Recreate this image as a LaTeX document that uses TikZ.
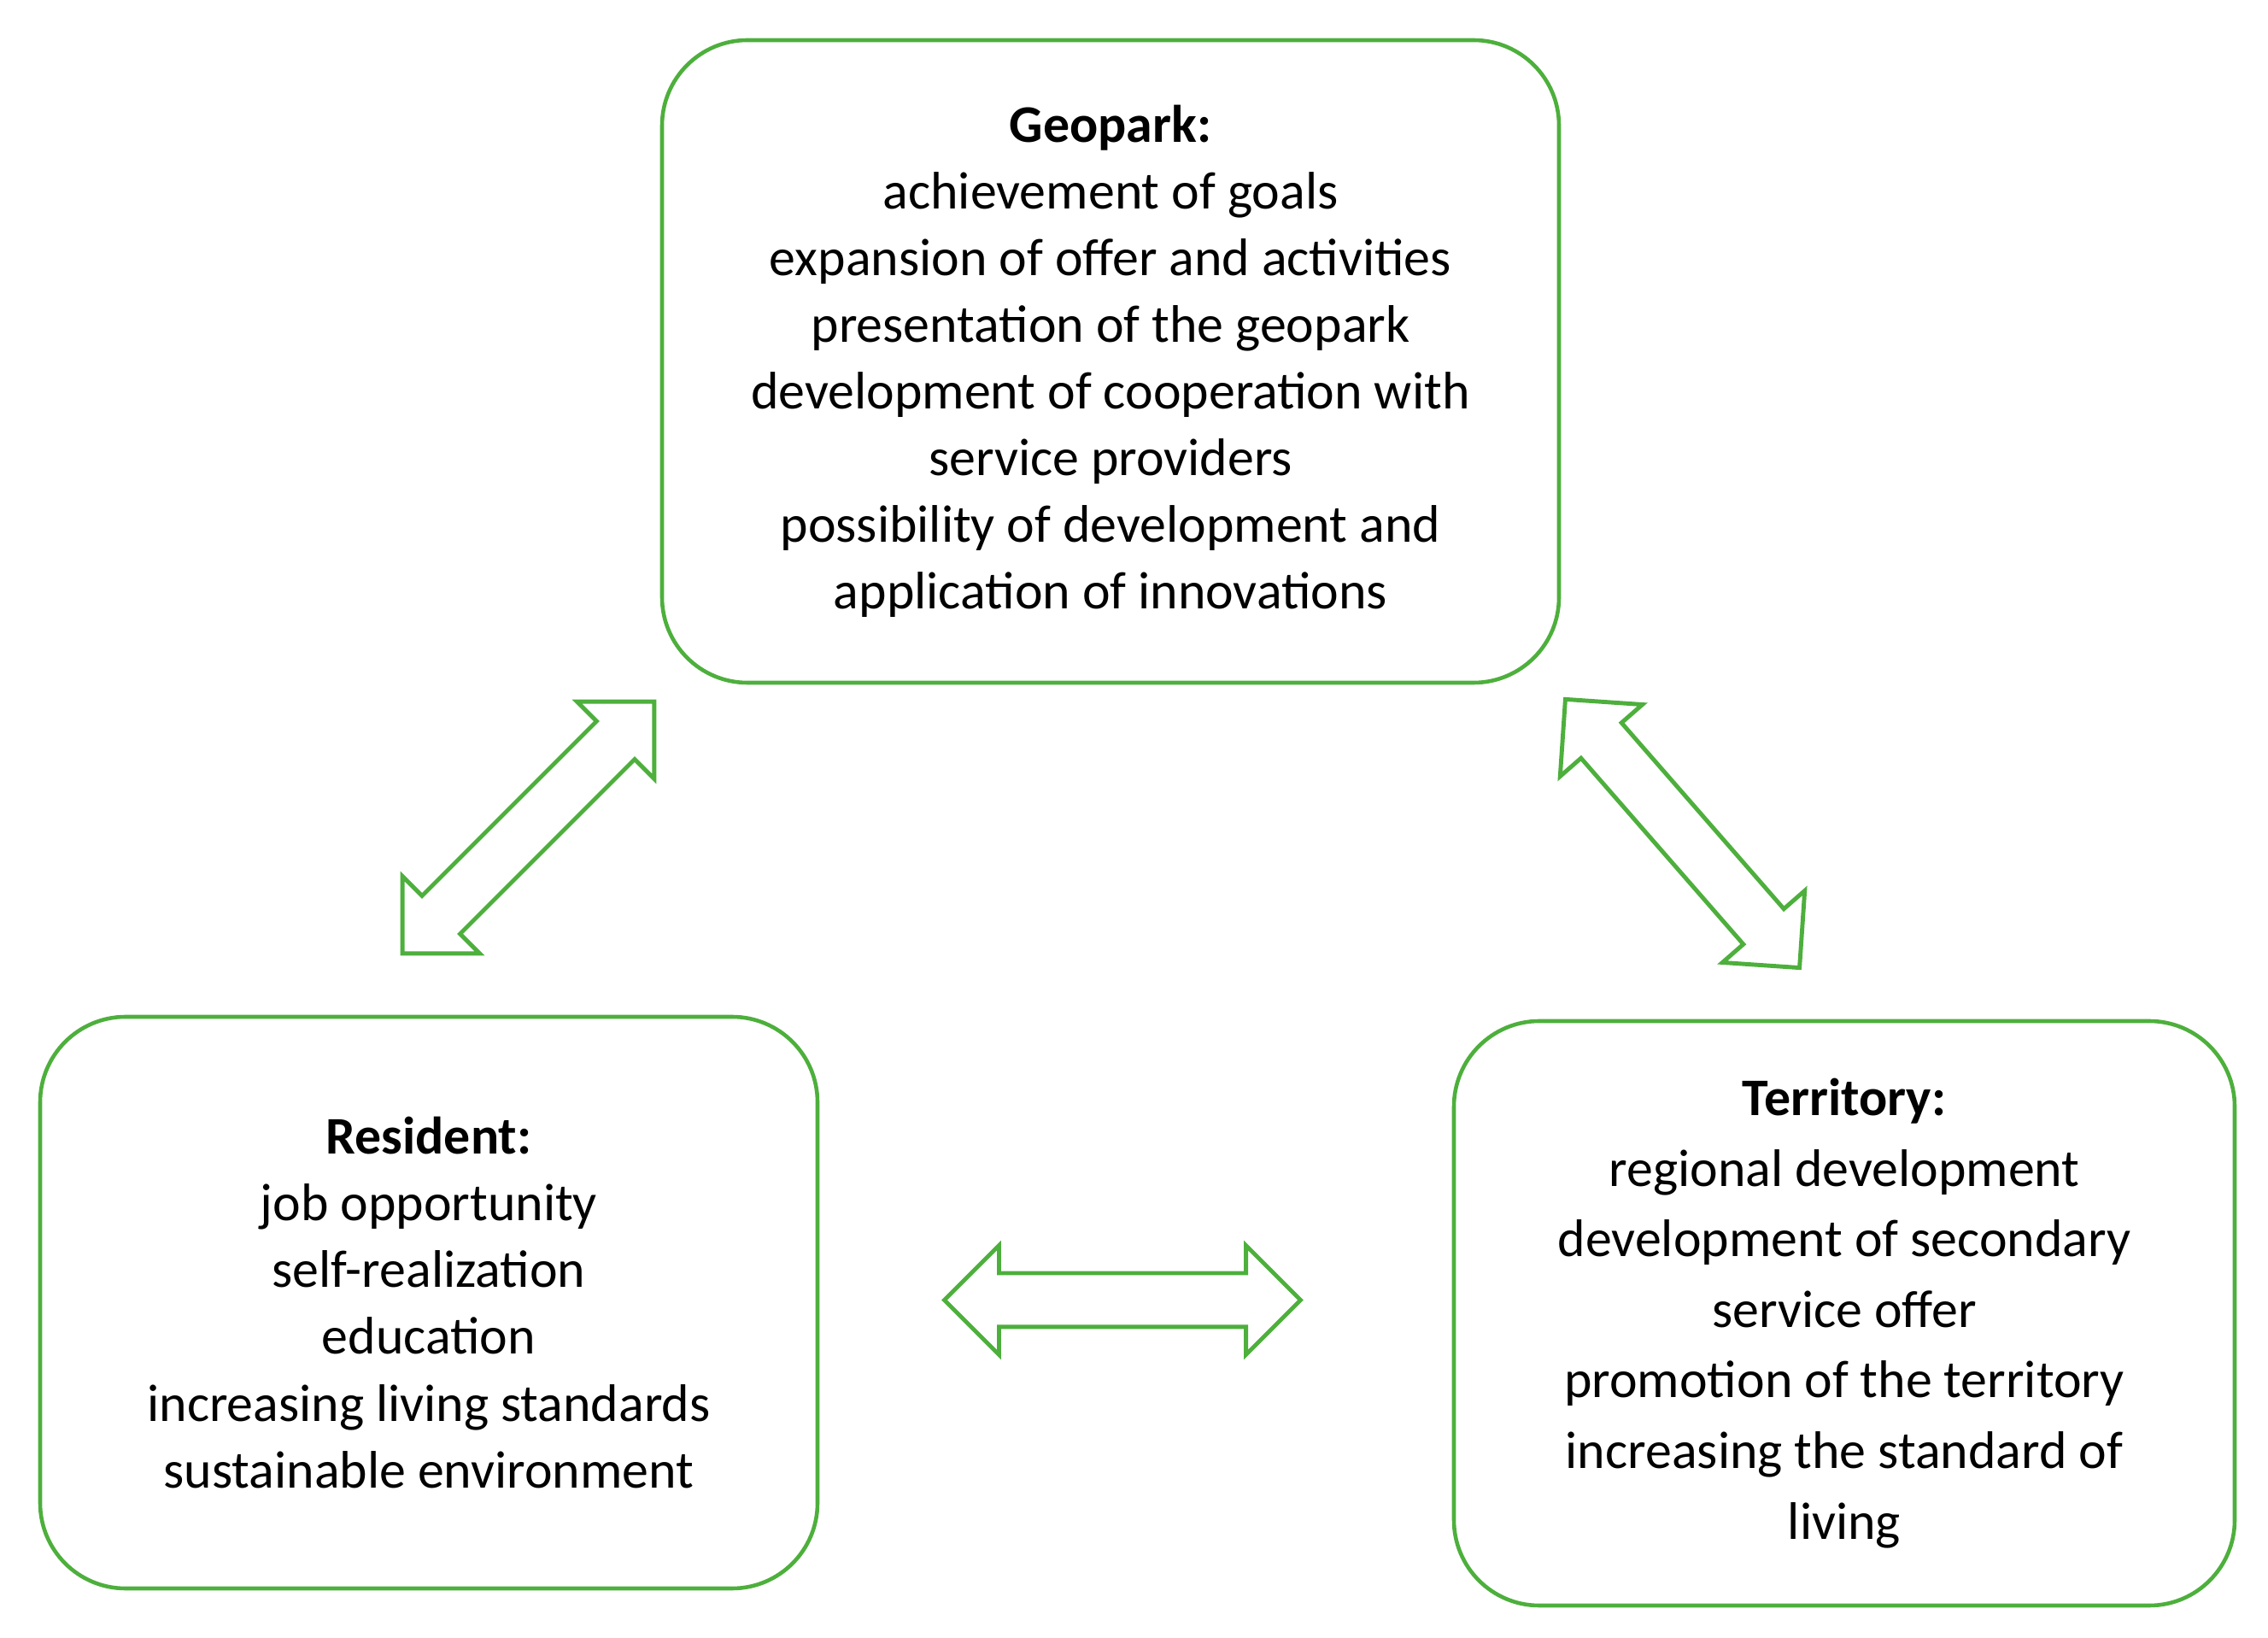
\documentclass[tikz,border=0pt]{standalone}
\usepackage{fontspec}
\setmainfont{Carlito}
\usetikzlibrary{shapes.arrows}
\definecolor{geogreen}{RGB}{77,175,60}

\begin{document}
\begin{tikzpicture}[
      box/.style={draw=geogreen, line width=1.3pt, rounded corners=1cm, align=center,
        font=\fontsize{17.6}{22.2}\selectfont},
      link/.style={draw=geogreen, line width=1.4pt, double arrow, minimum height=4.17cm,
        minimum width=1.23cm, inner sep=0.29cm, double arrow head extend=0.325cm},
      ]
      \useasboundingbox (0,0) rectangle (26.55,19.16);
      \node[box, minimum width=10.5cm, minimum height=7.52cm] (geopark) at (13.00,14.93)
        {\textbf{Geopark:}\\ achievement of goals\\ expansion of offer and activities\\
         presentation of the geopark\\ development of cooperation with\\ service providers\\
         possibility of development and\\ application of innovations};
      \node[box, minimum width=9.1cm, minimum height=6.69cm] (resident) at (5.02,3.915)
        {\textbf{Resident:}\\ job opportunity\\ self-realization\\ education\\
         increasing living standards\\ sustainable environment};
      \node[box, minimum width=9.14cm, minimum height=6.84cm,
        font=\fontsize{17.6}{23.5}\selectfont] (territory) at (21.59,3.79)
        {\textbf{Territory:}\\ regional development\\ development of secondary\\ service offer\\
         promotion of the territory\\ increasing the standard of\\ living};
      \node[link, rotate=45] (geo-res) at (6.185,9.475) {};
      \node[link, rotate=131.1] (geo-ter) at (19.695,9.405) {};
      \node[link] (res-ter) at (13.14,3.945) {};
\end{tikzpicture}
\end{document}
